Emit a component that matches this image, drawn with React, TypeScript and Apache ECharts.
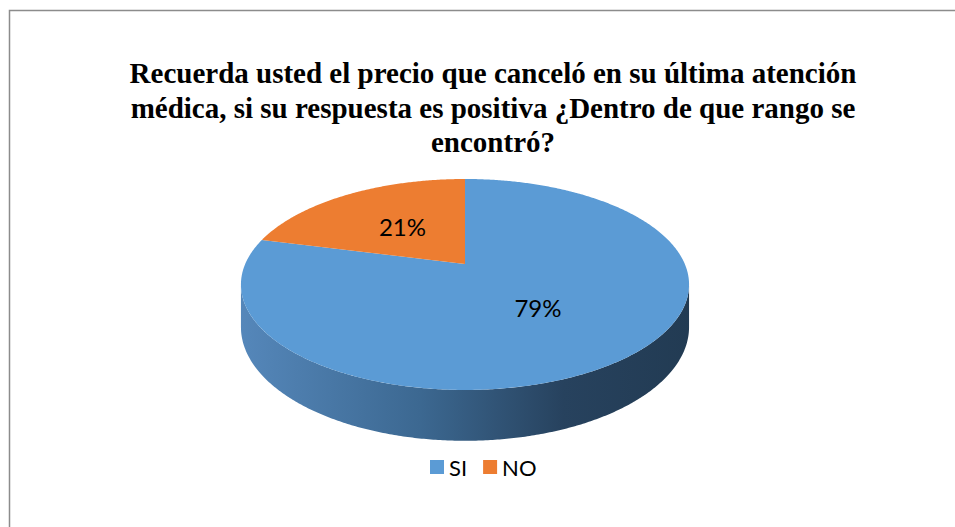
import React, { useEffect, useRef } from "react";
import * as echarts from "echarts";

// ---- data ----
const categories: string[] = ["SI", "NO"];
const values: number[] = [79, 21];
const colors: string[] = ["#5B9BD5", "#ED7D31"];
const titleLines: string[] = [
  "Recuerda usted el precio que canceló en su última atención",
  "médica, si su respuesta es positiva ¿Dentro de que rango se",
  "encontró?",
];

// ---- 3D pie geometry (perspective projection of a tilted disc) ----
const CX = 465;
const CY = 264;
const A = 219.8;
const B = 101.5;
const K = 0.194;
const H = 41;
const SIL_L = (Math.acos(-K) * 180) / Math.PI; // front-right silhouette
const SIL_R = 360 - SIL_L; // front-left silhouette

function proj(phiDeg: number, f: number): [number, number, number] {
  const r = (phiDeg * Math.PI) / 180;
  const u = f * Math.sin(r);
  const v = f * Math.cos(r);
  const d = 1 + K * v;
  return [CX + (A * u) / d, CY - (B * v) / d, d];
}

const total = values.reduce((s, v) => s + v, 0);

function makeRenderItem(idx: number) {
  return (params: any, api: any) => {
    const val = api.value(0) as number;
    let before = 0;
    for (let i = 0; i < idx; i++) before += values[i];
    const start = (before / total) * 360;
    const end = start + (val / total) * 360;
    const children: any[] = [];

    // side wall (front visible part)
    const lo = Math.max(start, SIL_L);
    const hi = Math.min(end, SIL_R);
    if (lo < hi) {
      const pts: number[][] = [];
      for (let a = lo; a < hi; a += 0.5) {
        const p = proj(a, 1);
        pts.push([p[0], p[1]]);
      }
      const pe = proj(hi, 1);
      pts.push([pe[0], pe[1]]);
      const bottom: number[][] = [];
      for (let a = lo; a < hi; a += 0.5) {
        const p = proj(a, 1);
        bottom.push([p[0], p[1] + H / p[2]]);
      }
      bottom.push([pe[0], pe[1] + H / pe[2]]);
      bottom.reverse();
      children.push({
        type: "polygon",
        shape: { points: pts.concat(bottom) },
        style: {
          fill: new echarts.graphic.LinearGradient(0, 0, 1, 0, [
            { offset: 0, color: "#5587ba" },
            { offset: 0.4, color: "#3c6891" },
            { offset: 0.72, color: "#27425e" },
            { offset: 1, color: "#223b53" },
          ]),
          stroke: null,
        },
      });
    }

    // top face
    const top: number[][] = [[CX, CY]];
    for (let a = start; a < end; a += 0.5) {
      const p = proj(a, 1);
      top.push([p[0], p[1]]);
    }
    const pEnd = proj(end, 1);
    top.push([pEnd[0], pEnd[1]]);
    children.push({
      type: "polygon",
      shape: { points: top },
      style: { fill: colors[idx], stroke: null },
    });

    // label
    const mid = (start + end) / 2;
    const lp = proj(mid, 0.5);
    children.push({
      type: "text",
      x: lp[0],
      y: lp[1],
      style: {
        text: Math.round((val / total) * 100) + "%",
        fontFamily: "Lato",
        fontSize: 24,
        fill: "#000",
        align: "center",
        verticalAlign: "middle",
      },
    });

    return { type: "group", children };
  };
}

export default function App() {
  const ref = useRef<HTMLDivElement>(null);
  useEffect(() => {
    if (!ref.current) return;
    const chart = echarts.init(ref.current, undefined, { renderer: "svg" });
    chart.setOption({
      animation: false,
      backgroundColor: "#ffffff",
      title: {
        text: titleLines.join("\n"),
        left: 493,
        textAlign: "center",
        top: 56,
        padding: 0,
        textStyle: {
          fontFamily: "'Liberation Serif', 'Times New Roman', serif",
          fontWeight: "bold",
          fontSize: 29,
          lineHeight: 34.5,
          color: "#000",
        },
      },
      legend: {
        data: categories,
        left: 430,
        top: 456,
        icon: "rect",
        itemWidth: 14,
        itemHeight: 14,
        itemGap: 16,
        padding: 0,
        textStyle: { fontFamily: "Lato", fontSize: 22, color: "#000" },
      },
      graphic: [
        {
          type: "rect",
          silent: true,
          shape: { x: 9.5, y: 10.5, width: 980, height: 560 },
          style: { fill: "none", stroke: "#8c8c8c", lineWidth: 1.5 },
        },
      ],
      series: categories.map((name, i) => ({
        type: "custom",
        name,
        coordinateSystem: "none",
        itemStyle: { color: colors[i] },
        data: [[values[i]]],
        renderItem: makeRenderItem(i),
      })),
    });
    return () => chart.dispose();
  }, []);
  return (
    <div
      ref={ref}
      style={{ position: "fixed", left: 0, top: 0, width: 955, height: 527 }}
    />
  );
}
